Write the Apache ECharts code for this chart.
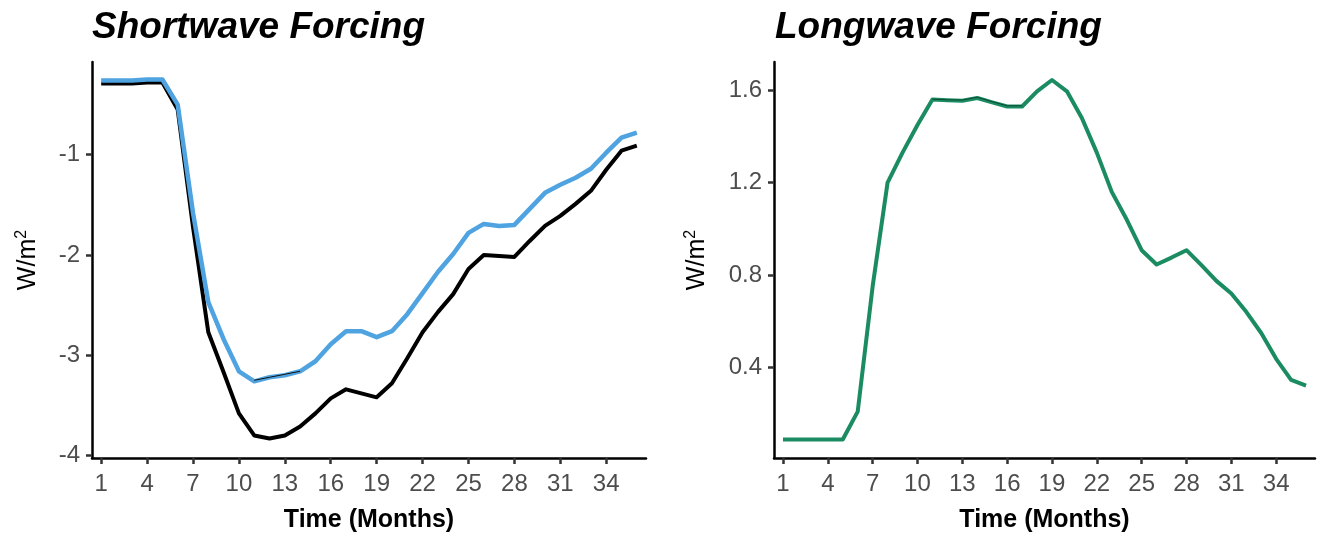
<!DOCTYPE html>
<html>
<head>
<meta charset="utf-8">
<title>Shortwave / Longwave Forcing</title>
<script src="https://cdn.jsdelivr.net/npm/echarts@6/dist/echarts.min.js"></script>
<style>
  html, body { margin: 0; padding: 0; background: #fff; }
  #chart { width: 1317px; height: 537px; }
</style>
</head>
<body>
<div id="chart"></div>
<script>
// Months 1..36
var months = [];
for (var m = 1; m <= 36; m++) months.push(m);

var monthTicks = [1, 4, 7, 10, 13, 16, 19, 22, 25, 28, 31, 34];
var swTicks = [-4, -3, -2, -1];
var lwTicks = [0.4, 0.8, 1.2, 1.6];

// Shortwave forcing (W/m2)
var swBlack = [-0.29, -0.29, -0.29, -0.28, -0.28, -0.55, -1.72, -2.77, -3.17, -3.58,
               -3.80, -3.83, -3.80, -3.71, -3.58, -3.43, -3.34, -3.38, -3.42, -3.28,
               -3.03, -2.77, -2.57, -2.39, -2.14, -2.00, -2.01, -2.02, -1.86, -1.71,
               -1.61, -1.49, -1.36, -1.15, -0.96, -0.91];
var swBlue = [-0.26, -0.26, -0.26, -0.25, -0.25, -0.50, -1.58, -2.47, -2.84, -3.16,
              -3.26, -3.22, -3.20, -3.16, -3.06, -2.89, -2.76, -2.76, -2.82, -2.76,
              -2.59, -2.38, -2.17, -1.99, -1.78, -1.69, -1.71, -1.70, -1.54, -1.38,
              -1.30, -1.23, -1.14, -0.98, -0.83, -0.78];
// thin dark trace along the blue line (months 11-14)
var swTraceMonths = [11, 12, 13, 14];
var swTrace = [-3.25, -3.22, -3.19, -3.16];

// Longwave forcing (W/m2)
var lwGreen = [0.086, 0.086, 0.086, 0.086, 0.086, 0.207, 0.75, 1.20, 1.33, 1.45,
               1.56, 1.557, 1.555, 1.567, 1.548, 1.53, 1.53, 1.596, 1.645, 1.596,
               1.48, 1.33, 1.16, 1.04, 0.907, 0.845, 0.875, 0.907, 0.842, 0.774,
               0.719, 0.64, 0.548, 0.436, 0.345, 0.32];
var lwTraceMonths = [11, 12, 13, 14, 15, 16, 17];
var lwTrace = [1.562, 1.559, 1.558, 1.570, 1.551, 1.533, 1.533];

function pairs(xs, ys) {
    return xs.map(function (x, i) { return [x, ys[i]]; });
}

var FONT = 'Liberation Sans, Arial, Helvetica, sans-serif';

function xAxisCfg(gridIndex) {
    return {
        type: 'value',
        gridIndex: gridIndex,
        min: 0.4,
        max: 36.6,
        name: 'Time (Months)',
        nameLocation: 'middle',
        nameGap: 50,
        nameTextStyle: { fontFamily: FONT, fontSize: 25, fontWeight: 'bold', color: '#000' },
        axisLine: { show: true, lineStyle: { color: '#000', width: 2.5 } },
        axisTick: { show: true, customValues: monthTicks, length: 6, lineStyle: { color: '#333', width: 2.5 } },
        axisLabel: { customValues: monthTicks, margin: 14, fontFamily: FONT, fontSize: 24, color: '#4d4d4d' },
        splitLine: { show: false }
    };
}

function yAxisCfg(gridIndex, min, max, ticks, gap, fmt) {
    return {
        type: 'value',
        gridIndex: gridIndex,
        min: min,
        max: max,
        name: '{b|W/m}{s|2}',
        nameLocation: 'middle',
        nameGap: gap,
        nameTextStyle: {
            fontFamily: FONT, color: '#000',
            rich: {
                b: { fontFamily: FONT, fontSize: 25, lineHeight: 28, color: '#000' },
                s: { fontFamily: FONT, fontSize: 16, lineHeight: 16, verticalAlign: 'top', color: '#000' }
            }
        },
        axisLine: { show: true, lineStyle: { color: '#000', width: 2.5 } },
        axisTick: { show: true, customValues: ticks, length: 6, lineStyle: { color: '#333', width: 2.5 } },
        axisLabel: { customValues: ticks, margin: 12, fontFamily: FONT, fontSize: 24, color: '#4d4d4d', formatter: fmt },
        splitLine: { show: false }
    };
}

function lineSeries(xi, data, color, width, z) {
    return {
        type: 'line',
        xAxisIndex: xi,
        yAxisIndex: xi,
        data: data,
        showSymbol: false,
        symbol: 'none',
        animation: false,
        silent: true,
        z: z,
        lineStyle: { color: color, width: width, join: 'round', cap: 'butt' }
    };
}

var chart = echarts.init(document.getElementById('chart'), null, { renderer: 'canvas' });

var titleStyle = { fontFamily: FONT, fontSize: 37, fontWeight: 'bold', fontStyle: 'italic', color: '#000' };

chart.setOption({
    backgroundColor: '#fff',
    animation: false,
    title: [
        { text: 'Shortwave Forcing', left: 92, top: 9, padding: 0, textStyle: titleStyle },
        { text: 'Longwave Forcing', left: 775, top: 9, padding: 0, textStyle: titleStyle }
    ],
    grid: [
        { left: 92, top: 62, width: 554, height: 396, outerBoundsMode: 'none', containLabel: false },
        { left: 774, top: 62, width: 541, height: 396, outerBoundsMode: 'none', containLabel: false }
    ],
    xAxis: [xAxisCfg(0), xAxisCfg(1)],
    yAxis: [
        yAxisCfg(0, -4.025, -0.075, swTicks, 50, function (v) { return String(v); }),
        yAxisCfg(1, 0.006, 1.723, lwTicks, 63, function (v) { return v.toFixed(1); })
    ],
    series: [
        lineSeries(0, pairs(months, swBlack), '#000000', 4, 2),
        lineSeries(0, pairs(months, swBlue), '#4ea3e0', 4.5, 3),
        lineSeries(0, pairs(swTraceMonths, swTrace), '#111111', 1, 4),
        lineSeries(1, pairs(months, lwGreen), '#1b8c62', 4, 2),
        lineSeries(1, pairs(lwTraceMonths, lwTrace), '#0c4a33', 1, 4)
    ]
});
</script>
</body>
</html>
